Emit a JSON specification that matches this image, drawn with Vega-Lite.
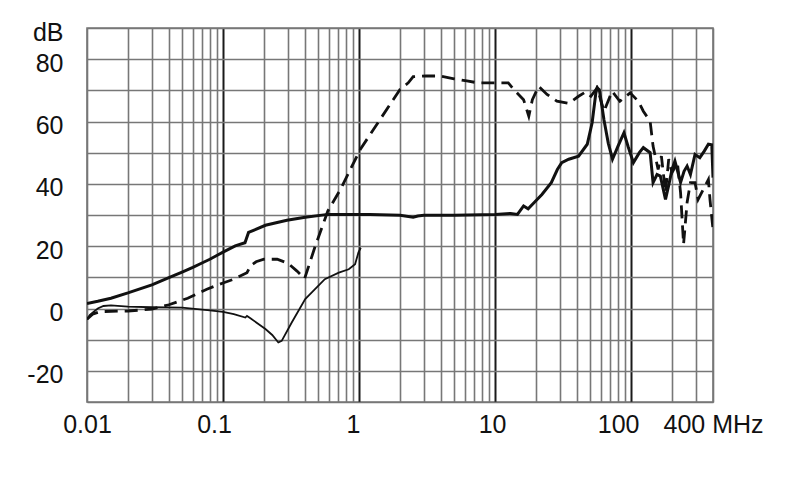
{
  "$schema": "https://vega.github.io/schema/vega-lite/v6.json",
  "width": 626,
  "height": 374,
  "autosize": {"type": "none"},
  "padding": {"left": 87, "top": 28, "right": 77, "bottom": 97},
  "background": "white",
  "config": {
    "view": {"stroke": "#777777", "strokeWidth": 1.6},
    "font": "Liberation Sans"
  },
  "datasets": {
    "curves": [
      {"s": "thick", "f": 0.01, "db": 1.6},
      {"s": "thick", "f": 0.012, "db": 2.3},
      {"s": "thick", "f": 0.015, "db": 3.3},
      {"s": "thick", "f": 0.02, "db": 5.0},
      {"s": "thick", "f": 0.03, "db": 7.6},
      {"s": "thick", "f": 0.04, "db": 9.9},
      {"s": "thick", "f": 0.05, "db": 11.7},
      {"s": "thick", "f": 0.06, "db": 13.2},
      {"s": "thick", "f": 0.07, "db": 14.6},
      {"s": "thick", "f": 0.08, "db": 15.8},
      {"s": "thick", "f": 0.09, "db": 17.0},
      {"s": "thick", "f": 0.1, "db": 18.1},
      {"s": "thick", "f": 0.123, "db": 20.1},
      {"s": "thick", "f": 0.145, "db": 21.1},
      {"s": "thick", "f": 0.154, "db": 24.4},
      {"s": "thick", "f": 0.205, "db": 26.7},
      {"s": "thick", "f": 0.295, "db": 28.3},
      {"s": "thick", "f": 0.402, "db": 29.3},
      {"s": "thick", "f": 0.59, "db": 30.2},
      {"s": "thick", "f": 1.2, "db": 30.2},
      {"s": "thick", "f": 2.0, "db": 29.9},
      {"s": "thick", "f": 2.5, "db": 29.3},
      {"s": "thick", "f": 2.7, "db": 29.7},
      {"s": "thick", "f": 3.0, "db": 29.9},
      {"s": "thick", "f": 5.0, "db": 29.9},
      {"s": "thick", "f": 10, "db": 30.2},
      {"s": "thick", "f": 13, "db": 30.5},
      {"s": "thick", "f": 14.6, "db": 30.2},
      {"s": "thick", "f": 16.2, "db": 32.9},
      {"s": "thick", "f": 17.5, "db": 32.0},
      {"s": "thick", "f": 19.4, "db": 34.0},
      {"s": "thick", "f": 22.1, "db": 36.6},
      {"s": "thick", "f": 25.9, "db": 40.4},
      {"s": "thick", "f": 28.7, "db": 44.6},
      {"s": "thick", "f": 30.9, "db": 46.8},
      {"s": "thick", "f": 34.8, "db": 47.9},
      {"s": "thick", "f": 41.1, "db": 48.9},
      {"s": "thick", "f": 47.6, "db": 52.7},
      {"s": "thick", "f": 51.7, "db": 59.6},
      {"s": "thick", "f": 55, "db": 69.0},
      {"s": "thick", "f": 56.3, "db": 70.8},
      {"s": "thick", "f": 58.4, "db": 70.2},
      {"s": "thick", "f": 60.5, "db": 66.0},
      {"s": "thick", "f": 63.2, "db": 60.5},
      {"s": "thick", "f": 68, "db": 53.0},
      {"s": "thick", "f": 73, "db": 47.9},
      {"s": "thick", "f": 80, "db": 52.0},
      {"s": "thick", "f": 88.6, "db": 56.4},
      {"s": "thick", "f": 95, "db": 52.0},
      {"s": "thick", "f": 104, "db": 46.8},
      {"s": "thick", "f": 115, "db": 50.0},
      {"s": "thick", "f": 123, "db": 51.6},
      {"s": "thick", "f": 138, "db": 50.0},
      {"s": "thick", "f": 145, "db": 40.4},
      {"s": "thick", "f": 155, "db": 43.0},
      {"s": "thick", "f": 164, "db": 42.5},
      {"s": "thick", "f": 179, "db": 35.0},
      {"s": "thick", "f": 190, "db": 40.0},
      {"s": "thick", "f": 200, "db": 44.6},
      {"s": "thick", "f": 210, "db": 47.3},
      {"s": "thick", "f": 220, "db": 44.0},
      {"s": "thick", "f": 231, "db": 40.4},
      {"s": "thick", "f": 245, "db": 44.0},
      {"s": "thick", "f": 258, "db": 45.7},
      {"s": "thick", "f": 273, "db": 43.0},
      {"s": "thick", "f": 295, "db": 49.4},
      {"s": "thick", "f": 320, "db": 48.4},
      {"s": "thick", "f": 345, "db": 50.5},
      {"s": "thick", "f": 370, "db": 52.7},
      {"s": "thick", "f": 392, "db": 52.5},
      {"s": "thick", "f": 400, "db": 42.0},

      {"s": "thin", "f": 0.01, "db": -3.5},
      {"s": "thin", "f": 0.0105, "db": -2.0},
      {"s": "thin", "f": 0.012, "db": 0.0},
      {"s": "thin", "f": 0.0132, "db": 0.8},
      {"s": "thin", "f": 0.015, "db": 1.0},
      {"s": "thin", "f": 0.02, "db": 0.6},
      {"s": "thin", "f": 0.03, "db": 0.4},
      {"s": "thin", "f": 0.05, "db": 0.3},
      {"s": "thin", "f": 0.08, "db": -0.6},
      {"s": "thin", "f": 0.1, "db": -1.1},
      {"s": "thin", "f": 0.12, "db": -1.8},
      {"s": "thin", "f": 0.146, "db": -2.9},
      {"s": "thin", "f": 0.15, "db": -2.4},
      {"s": "thin", "f": 0.16, "db": -3.2},
      {"s": "thin", "f": 0.205, "db": -6.6},
      {"s": "thin", "f": 0.23, "db": -8.5},
      {"s": "thin", "f": 0.255, "db": -10.9},
      {"s": "thin", "f": 0.27, "db": -10.4},
      {"s": "thin", "f": 0.32, "db": -4.5},
      {"s": "thin", "f": 0.402, "db": 3.0},
      {"s": "thin", "f": 0.56, "db": 9.4},
      {"s": "thin", "f": 0.71, "db": 11.5},
      {"s": "thin", "f": 0.84, "db": 12.6},
      {"s": "thin", "f": 0.935, "db": 14.2},
      {"s": "thin", "f": 0.99, "db": 18.0},
      {"s": "thin", "f": 1.03, "db": 19.5},

      {"s": "dashed", "f": 0.01, "db": -3.4},
      {"s": "dashed", "f": 0.011, "db": -1.8},
      {"s": "dashed", "f": 0.0125, "db": -1.0},
      {"s": "dashed", "f": 0.02, "db": -0.8},
      {"s": "dashed", "f": 0.03, "db": -0.2},
      {"s": "dashed", "f": 0.04, "db": 1.2},
      {"s": "dashed", "f": 0.055, "db": 3.3},
      {"s": "dashed", "f": 0.076, "db": 6.2},
      {"s": "dashed", "f": 0.1, "db": 8.2},
      {"s": "dashed", "f": 0.12, "db": 9.4},
      {"s": "dashed", "f": 0.15, "db": 11.5},
      {"s": "dashed", "f": 0.16, "db": 13.8},
      {"s": "dashed", "f": 0.175, "db": 15.0},
      {"s": "dashed", "f": 0.2, "db": 15.8},
      {"s": "dashed", "f": 0.25, "db": 15.8},
      {"s": "dashed", "f": 0.3, "db": 14.5},
      {"s": "dashed", "f": 0.35, "db": 12.0},
      {"s": "dashed", "f": 0.398, "db": 9.6},
      {"s": "dashed", "f": 0.477, "db": 20.1},
      {"s": "dashed", "f": 0.59, "db": 31.3},
      {"s": "dashed", "f": 0.73, "db": 38.2},
      {"s": "dashed", "f": 1.02, "db": 51.0},
      {"s": "dashed", "f": 1.43, "db": 60.7},
      {"s": "dashed", "f": 2.0, "db": 70.3},
      {"s": "dashed", "f": 2.3, "db": 72.4},
      {"s": "dashed", "f": 2.5, "db": 74.4},
      {"s": "dashed", "f": 3.1, "db": 74.6},
      {"s": "dashed", "f": 3.9, "db": 74.6},
      {"s": "dashed", "f": 5.0, "db": 73.7},
      {"s": "dashed", "f": 6.2, "db": 73.0},
      {"s": "dashed", "f": 7.5, "db": 72.4},
      {"s": "dashed", "f": 9.8, "db": 72.4},
      {"s": "dashed", "f": 12.5, "db": 72.4},
      {"s": "dashed", "f": 14.1, "db": 69.7},
      {"s": "dashed", "f": 16.2, "db": 67.0},
      {"s": "dashed", "f": 17.7, "db": 61.7},
      {"s": "dashed", "f": 18.8, "db": 67.0},
      {"s": "dashed", "f": 20.9, "db": 71.3},
      {"s": "dashed", "f": 24.1, "db": 68.7},
      {"s": "dashed", "f": 28.5, "db": 66.5},
      {"s": "dashed", "f": 34.7, "db": 65.8},
      {"s": "dashed", "f": 41.1, "db": 68.1},
      {"s": "dashed", "f": 46.3, "db": 69.5},
      {"s": "dashed", "f": 50.6, "db": 68.1},
      {"s": "dashed", "f": 56.3, "db": 70.8},
      {"s": "dashed", "f": 63.2, "db": 63.3},
      {"s": "dashed", "f": 72.5, "db": 69.7},
      {"s": "dashed", "f": 82.7, "db": 66.5},
      {"s": "dashed", "f": 98.4, "db": 69.2},
      {"s": "dashed", "f": 113, "db": 66.5},
      {"s": "dashed", "f": 123, "db": 63.3},
      {"s": "dashed", "f": 138, "db": 60.1},
      {"s": "dashed", "f": 145, "db": 52.1},
      {"s": "dashed", "f": 158, "db": 44.6},
      {"s": "dashed", "f": 167, "db": 48.9},
      {"s": "dashed", "f": 179, "db": 37.2},
      {"s": "dashed", "f": 189, "db": 47.9},
      {"s": "dashed", "f": 200, "db": 43.6},
      {"s": "dashed", "f": 219, "db": 46.8},
      {"s": "dashed", "f": 231, "db": 37.2},
      {"s": "dashed", "f": 243, "db": 20.6},
      {"s": "dashed", "f": 258, "db": 34.0},
      {"s": "dashed", "f": 273, "db": 40.4},
      {"s": "dashed", "f": 295, "db": 40.4},
      {"s": "dashed", "f": 311, "db": 35.0},
      {"s": "dashed", "f": 339, "db": 38.2},
      {"s": "dashed", "f": 370, "db": 41.4},
      {"s": "dashed", "f": 380, "db": 35.0},
      {"s": "dashed", "f": 400, "db": 25.4}
    ]
  },
  "data": {"name": "curves"},
  "encoding": {
    "x": {
      "field": "f",
      "type": "quantitative",
      "scale": {"type": "log", "domain": [0.01, 400], "nice": false},
      "axis": {
        "title": null,
        "values": [0.01, 0.02, 0.03, 0.04, 0.05, 0.06, 0.07, 0.08, 0.09, 0.1, 0.2, 0.3, 0.4, 0.5, 0.6, 0.7, 0.8, 0.9, 1, 2, 3, 4, 5, 6, 7, 8, 9, 10, 20, 30, 40, 50, 60, 70, 80, 90, 100, 200, 300, 400],
        "labelExpr": "datum.value == 0.01 ? '0.01' : datum.value == 0.1 ? '0.1' : datum.value == 1 ? '1' : datum.value == 10 ? '10' : datum.value == 100 ? '100' : datum.value == 400 ? '400 MHz' : ''",
        "ticks": false,
        "domain": false,
        "labelFontSize": 25,
        "labelColor": "#111",
        "labelPadding": 10,
        "labelOverlap": false,
        "labelBound": false,
        "labelFlush": false,
        "labelOffset": {"condition": [{"test": "datum.value == 0.1", "value": -9}, {"test": "datum.value == 1", "value": -6}, {"test": "datum.value == 10", "value": -3}, {"test": "datum.value == 100", "value": -13}], "value": 0},
        "gridColor": {"condition": {"test": "datum.value == 0.1 || datum.value == 1 || datum.value == 10 || datum.value == 100", "value": "#1a1a1a"}, "value": "#777777"},
        "gridWidth": {"condition": {"test": "datum.value == 0.1 || datum.value == 1 || datum.value == 10 || datum.value == 100", "value": 2}, "value": 1.6},
        "gridOpacity": 1
      }
    },
    "y": {
      "field": "db",
      "type": "quantitative",
      "scale": {"domain": [-30, 90], "nice": false, "zero": false},
      "axis": {
        "title": null,
        "values": [-30, -20, -10, 0, 10, 20, 30, 40, 50, 60, 70, 80, 90],
        "labelExpr": "datum.value == 90 ? 'dB' : (datum.value % 20 == 0 && datum.value > -30) ? ('' + datum.value) : ''",
        "ticks": false,
        "domain": false,
        "labelFontSize": 25,
        "labelColor": "#111",
        "labelPadding": 24,
        "labelOffset": 4,
        "labelOverlap": false,
        "labelBound": false,
        "labelFlush": false,
        "gridColor": "#777777",
        "gridWidth": 1.6,
        "gridOpacity": 1
      }
    }
  },
  "layer": [
    {
      "transform": [{"filter": "datum.s == 'dashed'"}],
      "mark": {"type": "line", "color": "#111", "strokeWidth": 2.8, "strokeDash": [13, 7], "clip": true}
    },
    {
      "transform": [{"filter": "datum.s == 'thin'"}],
      "mark": {"type": "line", "color": "#111", "strokeWidth": 1.8, "clip": true}
    },
    {
      "transform": [{"filter": "datum.s == 'thick'"}],
      "mark": {"type": "line", "color": "#111", "strokeWidth": 3, "clip": true}
    }
  ]
}
